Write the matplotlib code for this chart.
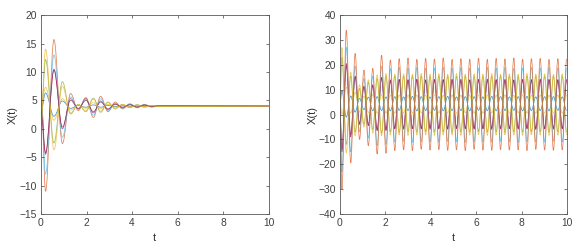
#!/usr/bin/env python3
# -*- coding: utf-8 -*-

import numpy as np                          # Arrays
import matplotlib
matplotlib.use('Agg')
import matplotlib.pyplot as plt             # Plotting library
from matplotlib.path import Path            # Smooth curve paths
from matplotlib.patches import PathPatch

plt.rcParams['font.family'] = ['Liberation Sans', 'DejaVu Sans']

# MATLAB default colour order
c_blue = '#0072BD'
c_orange = '#D95319'
c_yellow = '#EDB120'
c_purple = '#7E2F8E'
c_green = '#77AC30'
c_lblue = '#4DBEEE'
c_red = '#A2142F'

# ---------------------------------------------------------------
# Left panel: value at t=0, then the extrema
# ---------------------------------------------------------------
t_left = [0, 0.2, 0.57, 0.94, 1.3, 1.64, 1.97, 2.3, 2.62, 2.94, 3.26,
          3.58, 3.9, 4.22, 4.54, 4.86, 5.18, 10]

left_blue = [3, 6.3, 2.2, 4.9, 3.6, 4.1, 3.8, 4.2, 3.8, 4.1, 3.9,
             4.05, 3.95, 4.02, 3.98, 4.01, 4.0, 4]
left_orange = [8, -11, 15.7, -2.6, 6.2, 3.2, 5.5, 2.0, 5.7, 3.0, 4.7,
               3.5, 4.4, 3.7, 4.3, 3.8, 4.1, 4]
left_lyellow = [4, 7.3, 1.5, 5.3, 3.3, 4.2, 3.6, 4.6, 3.5, 4.3, 3.8,
                4.1, 3.9, 4.05, 3.95, 4.02, 4, 4]
left_purple = [5, -4.5, 10.5, 0, 5.3, 3.5, 5.3, 2.8, 4.9, 3.4, 4.4,
               3.7, 4.3, 3.8, 4.2, 3.9, 4.05, 4]
left_green = [1, 12.2, -2.5, 8.3, 2.6, 4.3, 3.0, 5.4, 2.9, 4.7, 3.5,
              4.3, 3.7, 4.25, 3.8, 4.1, 3.95, 4]
left_lblue = [6, -8, 13, -1.5, 5.6, 3.4, 5.2, 2.4, 5.3, 3.2, 4.5,
              3.6, 4.3, 3.8, 4.2, 3.9, 4.05, 4]
left_red = [3, -4.2, 10.3, 0.3, 5.0, 3.6, 5.0, 3.0, 4.7, 3.5, 4.3,
            3.8, 4.2, 3.85, 4.15, 3.9, 4.05, 4]
left_yellow = [0.5, 14, -3.7, 7.5, 2.8, 4.2, 3.2, 5.2, 3.1, 4.6, 3.6,
               4.3, 3.75, 4.2, 3.85, 4.1, 3.95, 4]

# ---------------------------------------------------------------
# Right panel: value at t=0, then one extremum every half period
# ---------------------------------------------------------------
t_right = np.concatenate([[0.0], 0.09 + 0.194 * np.arange(52)])

right_orange = [5,
    -30, 34, -19.5, 24.6, -10, 17.9, -12.5, 18.6, -15.9, 23.9,
    -15.6, 22, -14.5, 22.5, -14.2, 22.8, -14.5, 22.2, -14, 22.6,
    -14.3, 22.4, -14.1, 22.8, -14.4, 22.2, -14.2, 22.5, -14.5, 22.3,
    -14, 22.7, -14.3, 22.2, -14.4, 22.6, -14.1, 22.4, -14.3, 22.8,
    -14.2, 22.3, -14.5, 22.5, -14, 22.6, -14.3, 22.2, -14.4, 22.5,
    -14.2, 22.4]
right_lblue = [4,
    -23, 27, -15, 19.5, -7, 14.5, -9.5, 15.5, -12.5, 19.5,
    -12, 18.5, -11, 19, -10.8, 18.7, -11.2, 18.9, -10.9, 18.6,
    -11, 18.8, -11.1, 19, -10.8, 18.7, -11, 18.9, -11.2, 18.6,
    -10.9, 18.8, -11, 19, -11.1, 18.7, -10.8, 18.9, -11, 18.6,
    -11.2, 18.8, -10.9, 19, -11, 18.7, -11.1, 18.9, -10.8, 18.8,
    -11, 18.7]
right_red = [3,
    -15, 20.5, -9, 15.5, -4, 11.5, -4.5, 12, -6.5, 15,
    -6.5, 14, -5.8, 14.2, -5.9, 14.1, -5.7, 14.3, -5.8, 14,
    -6, 14.2, -5.8, 14.1, -5.9, 14.3, -5.7, 14.2, -5.8, 14,
    -5.9, 14.2, -5.8, 14.3, -6, 14.1, -5.8, 14.2, -5.7, 14,
    -5.9, 14.2, -5.8, 14.1, -6, 14.3, -5.8, 14.2, -5.9, 14.1,
    -5.8, 14.2]
right_purple = [2,
    -14, 19.5, -8, 15, -3.5, 11, -4, 11.5, -6, 14.5,
    -6, 13.5, -5.5, 14, -5.4, 13.8, -5.6, 13.9, -5.5, 13.7,
    -5.4, 13.8, -5.5, 13.9, -5.6, 13.8, -5.4, 13.7, -5.5, 13.9,
    -5.5, 13.8, -5.6, 13.7, -5.4, 13.9, -5.5, 13.8, -5.6, 13.8,
    -5.4, 13.9, -5.5, 13.7, -5.5, 13.8, -5.6, 13.9, -5.4, 13.8,
    -5.5, 13.8]
right_green = [4,
    23, -12, 15.5, -7, 10.5, -4, 13, -6, 14.5, -7.5,
    15.5, -7, 15.5, -7.2, 15.4, -7, 15.6, -7.1, 15.5, -6.9,
    15.4, -7.1, 15.6, -7, 15.5, -7.2, 15.4, -7, 15.6, -7.1,
    15.5, -6.9, 15.5, -7.1, 15.4, -7, 15.6, -7.2, 15.5, -7,
    15.4, -7.1, 15.6, -7, 15.5, -6.9, 15.5, -7.1, 15.4, -7,
    15.6, -7.1]
right_yellow = [5,
    27, -15.5, 17, -8.5, 12, -5, 14, -7.5, 16, -8.5,
    16.5, -8.3, 16.3, -8.2, 16.4, -8.4, 16.2, -8.3, 16.5, -8.2,
    16.3, -8.4, 16.4, -8.3, 16.2, -8.2, 16.5, -8.4, 16.3, -8.3,
    16.4, -8.2, 16.3, -8.4, 16.5, -8.3, 16.2, -8.2, 16.4, -8.3,
    16.3, -8.4, 16.5, -8.2, 16.3, -8.3, 16.4, -8.4, 16.2, -8.3,
    16.4, -8.2]
right_blue = [4,
    9.5, -1, 7.5, 1, 6.5, 2, 7, 1.5, 7.2, 1.6,
    7.1, 1.5, 7.2, 1.7, 7.1, 1.6, 7.3, 1.5, 7.2, 1.6,
    7.1, 1.7, 7.2, 1.5, 7.3, 1.6, 7.1, 1.6, 7.2, 1.5,
    7.2, 1.7, 7.1, 1.6, 7.3, 1.5, 7.2, 1.6, 7.1, 1.7,
    7.2, 1.5, 7.3, 1.6, 7.1, 1.6, 7.2, 1.5, 7.2, 1.7,
    7.1, 1.6]
right_lyellow = [6,
    0, 11, 0.5, 9, 1, 7.5, 0.8, 8, 0.5, 8,
    0.6, 7.8, 0.5, 7.9, 0.6, 7.8, 0.7, 7.9, 0.6, 7.8,
    0.5, 7.9, 0.6, 7.8, 0.6, 7.9, 0.5, 7.8, 0.7, 7.9,
    0.6, 7.8, 0.5, 7.9, 0.6, 7.8, 0.6, 7.9, 0.5, 7.8,
    0.7, 7.9, 0.6, 7.8, 0.5, 7.9, 0.6, 7.8, 0.6, 7.9,
    0.5, 7.8]


def draw_smooth(ax, t, x, color):
    '''
    Draw a curve through the extrema with flat tangents (cubic Bezier path)
    '''
    t = np.asarray(t, float)
    x = np.asarray(x, float)
    verts = [(t[0], x[0])]
    codes = [Path.MOVETO]
    for i in range(len(t) - 1):
        d = 0.364 * (t[i + 1] - t[i])
        verts += [(t[i] + d, x[i]), (t[i + 1] - d, x[i + 1]), (t[i + 1], x[i + 1])]
        codes += [Path.CURVE4] * 3
    ax.add_patch(PathPatch(Path(verts, codes), fill=False, edgecolor=color,
                           linewidth=0.55, alpha=0.75, transform=ax.transData))


def style_axes(ax, ylim, yticks, ylab_x):
    '''
    MATLAB-like box with inward ticks on all four sides
    '''
    ax.set_xlim(0, 10)
    ax.set_ylim(*ylim)
    ax.set_xticks(range(0, 11, 2))
    ax.set_yticks(yticks)
    ax.tick_params(direction='in', top=True, right=True, length=2.5,
                   width=0.5, labelsize=7.4, colors='0.25', pad=3)
    for s in ax.spines.values():
        s.set_linewidth(0.6)
        s.set_color('0.35')
    ax.set_xlabel('t', fontsize=8, color='0.2')
    ax.set_ylabel('X(t)', fontsize=8, color='0.2')
    ax.xaxis.set_label_coords(0.5, -0.095)
    ax.yaxis.set_label_coords(ylab_x, 0.5)


fig = plt.figure(figsize=(5.78, 2.48), dpi=100)
ax1 = fig.add_axes([0.0709, 0.137, 0.394, 0.802])
ax2 = fig.add_axes([0.588, 0.137, 0.393, 0.802])

left_series = [(left_blue, c_blue), (left_orange, c_orange),
               (left_purple, c_purple), (left_green, c_green),
               (left_lblue, c_lblue), (left_red, c_red),
               (left_lyellow, c_yellow), (left_yellow, c_yellow)]
for vals, col in left_series:
    draw_smooth(ax1, t_left, vals, col)

right_series = [(right_blue, c_blue), (right_purple, c_purple),
                (right_red, c_red), (right_green, c_green),
                (right_yellow, c_yellow), (right_lyellow, c_yellow),
                (right_lblue, c_lblue), (right_orange, c_orange)]
for vals, col in right_series:
    draw_smooth(ax2, t_right, vals, col)

style_axes(ax1, (-15, 20), range(-15, 21, 5), -0.103)
style_axes(ax2, (-40, 40), range(-40, 41, 10), -0.099)

plt.savefig('out.png', dpi=100)
